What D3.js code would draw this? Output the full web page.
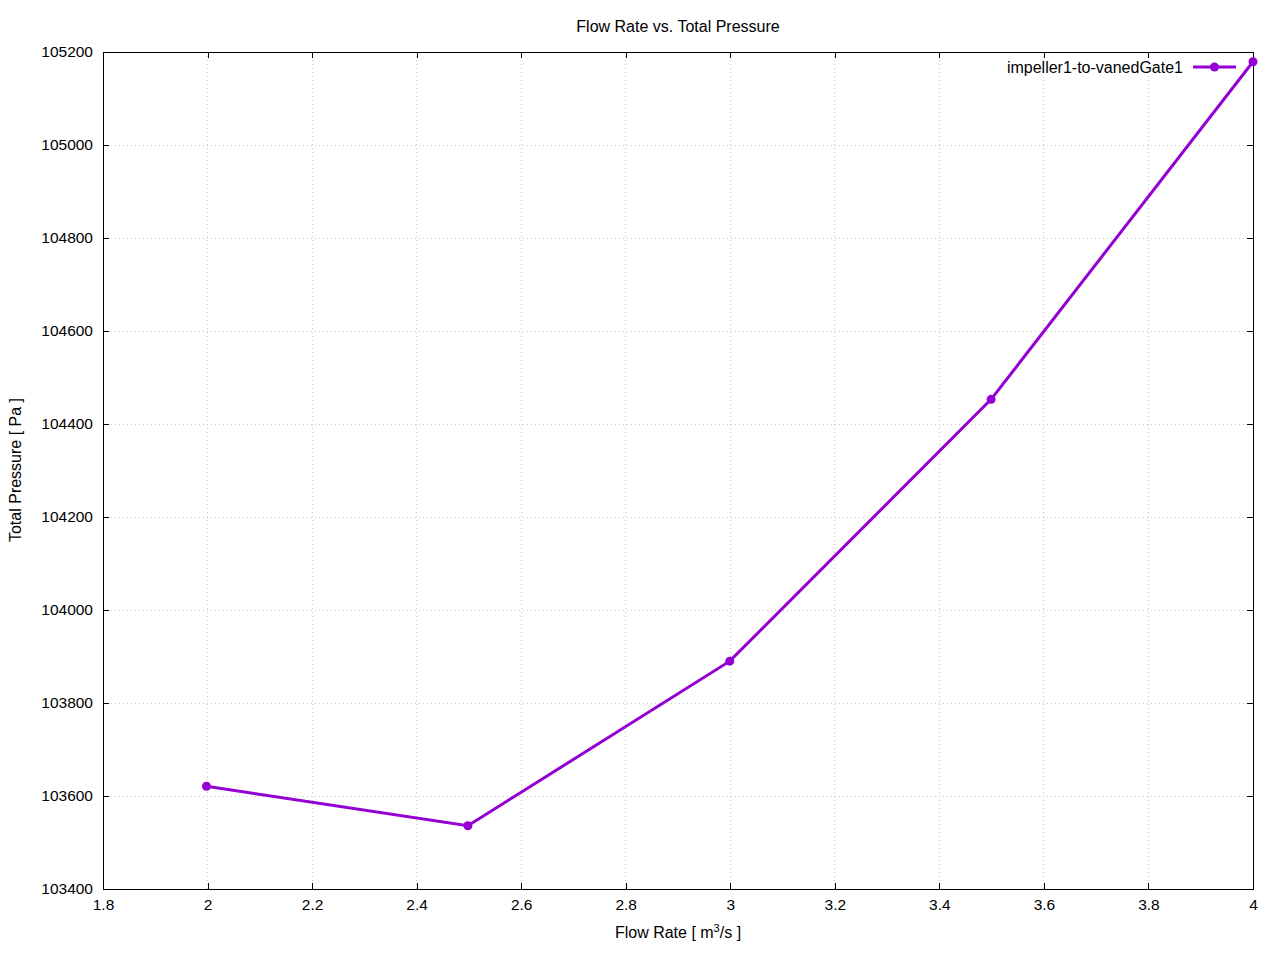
<!DOCTYPE html>
<html><head><meta charset="utf-8">
<script src="https://cdn.jsdelivr.net/npm/d3@7"></script>
<style>body{margin:0;background:#fff;} svg{display:block;font-family:"Liberation Sans",Arial,sans-serif;}</style>
</head><body>
<svg id="c" width="1280" height="960"></svg>
<script>
const flowRate = [1.998, 2.498, 2.999, 3.499, 4.0];
const totalPressure = [103621, 103536, 103890, 104453, 105179];
const seriesName = "impeller1-to-vanedGate1";
const xTicks = [1.8, 2, 2.2, 2.4, 2.6, 2.8, 3, 3.2, 3.4, 3.6, 3.8, 4];
const yTicks = [103400, 103600, 103800, 104000, 104200, 104400, 104600, 104800, 105000, 105200];
const color = "#9400d3";

const svg = d3.select("#c");
const L = 103, R = 1253, T = 52, B = 889;
const x = d3.scaleLinear().domain([1.8, 4]).range([L, R]);
const y = d3.scaleLinear().domain([103400, 105200]).range([B, T]);

// grid
const g = svg.append("g");
g.selectAll(".gx").data(xTicks.slice(1, -1)).enter().append("line")
  .attr("x1", d => x(d)).attr("x2", d => x(d)).attr("y1", T).attr("y2", B)
  .attr("stroke", "#c8c8c8").attr("stroke-width", 1).attr("stroke-dasharray", "1,3").attr("shape-rendering","crispEdges");
g.selectAll(".gy").data(yTicks.slice(1, -1)).enter().append("line")
  .attr("x1", L).attr("x2", R).attr("y1", d => y(d)).attr("y2", d => y(d))
  .attr("stroke", "#c8c8c8").attr("stroke-width", 1).attr("stroke-dasharray", "1,3").attr("shape-rendering","crispEdges");

// axes with inward ticks, mirrored
const fmtX = d => d3.format("")(+d.toFixed(1));
const axB = d3.axisBottom(x).tickValues(xTicks).tickSize(-6).tickPadding(10).tickFormat(fmtX);
const axT = d3.axisTop(x).tickValues(xTicks).tickSize(-6).tickFormat("");
const axL = d3.axisLeft(y).tickValues(yTicks).tickSize(-6).tickPadding(10).tickFormat(d3.format("d"));
const axR = d3.axisRight(y).tickValues(yTicks).tickSize(-6).tickFormat("");
function style(sel){
  sel.selectAll(".domain").remove();
  sel.selectAll("line").attr("stroke","#000").attr("shape-rendering","crispEdges");
  sel.selectAll("text").attr("fill","#000").style("font-size","15.5px").style("font-family","Liberation Sans, Arial, sans-serif");
}
svg.append("g").attr("transform",`translate(0,${B})`).call(axB).call(style);
svg.append("g").attr("transform",`translate(0,${T})`).call(axT).call(style);
svg.append("g").attr("transform",`translate(${L},0)`).call(axL).call(style);
svg.append("g").attr("transform",`translate(${R},0)`).call(axR).call(style);

svg.append("rect").attr("x",L).attr("y",T).attr("width",R-L).attr("height",B-T)
  .attr("fill","none").attr("stroke","#000").attr("stroke-width",1).attr("shape-rendering","crispEdges");

// data
const data = flowRate.map((f,i)=>({x:f,y:totalPressure[i]}));
svg.append("path").datum(data)
  .attr("d", d3.line().x(d=>x(d.x)).y(d=>y(d.y)))
  .attr("fill","none").attr("stroke",color).attr("stroke-width",3);
svg.selectAll(".pt").data(data).enter().append("circle")
  .attr("cx",d=>x(d.x)).attr("cy",d=>y(d.y)).attr("r",4.5).attr("fill",color);

// legend
svg.append("text").attr("x",1183).attr("y",73).attr("text-anchor","end")
  .style("font-size","16px").attr("fill","#000").text(seriesName);
svg.append("line").attr("x1",1193).attr("x2",1236).attr("y1",67).attr("y2",67)
  .attr("stroke",color).attr("stroke-width",3);
svg.append("circle").attr("cx",1214.5).attr("cy",67).attr("r",4.5).attr("fill",color);

// title & labels
svg.append("text").attr("x",678).attr("y",32).attr("text-anchor","middle")
  .style("font-size","16px").text("Flow Rate vs. Total Pressure");
const xl = svg.append("text").attr("x",678).attr("y",938).attr("text-anchor","middle").style("font-size","16px");
xl.append("tspan").text("Flow Rate [ m");
xl.append("tspan").attr("dy",-6).style("font-size","11px").text("3");
xl.append("tspan").attr("dy",6).text("/s ]");
svg.append("text").attr("transform","translate(21,470) rotate(-90)").attr("text-anchor","middle")
  .style("font-size","16px").text("Total Pressure [ Pa ]");
</script>
</body></html>
